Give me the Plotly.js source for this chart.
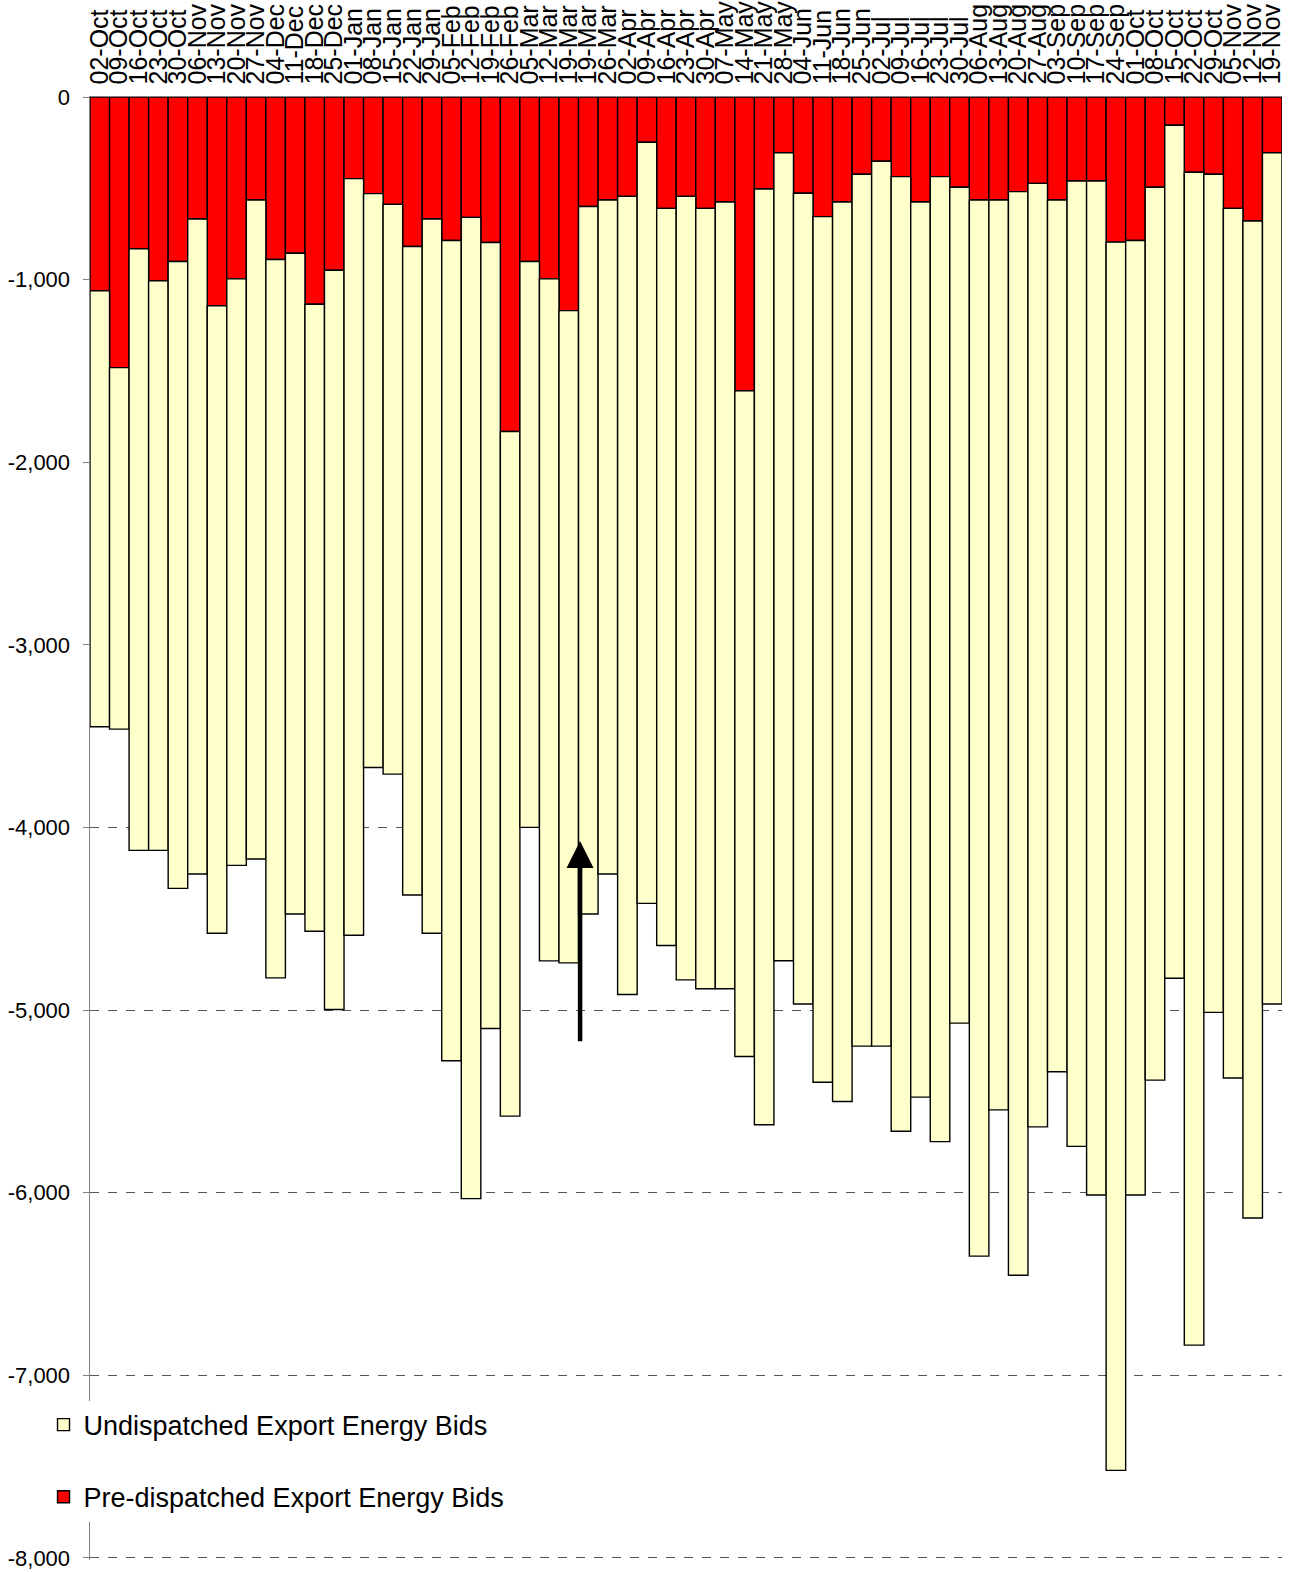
<!DOCTYPE html>
<html>
<head>
<meta charset="utf-8">
<script src="https://cdn.plot.ly/plotly-3.0.1.min.js"></script>
<style>
  html, body { margin: 0; padding: 0; background: #ffffff; }
  #chart { width: 1296px; height: 1572px; }
</style>
</head>
<body>
<div id="chart"></div>
<script>
// Week labels (note: "19-Mar" appears twice in the original chart)
const weeks = [
  "02-Oct","09-Oct","16-Oct","23-Oct","30-Oct","06-Nov","13-Nov","20-Nov","27-Nov",
  "04-Dec","11-Dec","18-Dec","25-Dec","01-Jan","08-Jan","15-Jan","22-Jan","29-Jan",
  "05-Feb","12-Feb","19-Feb","26-Feb","05-Mar","12-Mar","19-Mar","19-Mar","26-Mar",
  "02-Apr","09-Apr","16-Apr","23-Apr","30-Apr","07-May","14-May","21-May","28-May",
  "04-Jun","11-Jun","18-Jun","25-Jun","02-Jul","09-Jul","16-Jul","23-Jul","30-Jul",
  "06-Aug","13-Aug","20-Aug","27-Aug","03-Sep","10-Sep","17-Sep","24-Sep",
  "01-Oct","08-Oct","15-Oct","22-Oct","29-Oct","05-Nov","12-Nov","19-Nov"
];

// Pre-dispatched export energy bids (MW, negative)
const preDispatched = [
  -1062,-1482,-832,-1007,-901,-668,-1144,-996,-564,
  -890,-856,-1135,-949,-447,-529,-588,-819,-668,
  -786,-659,-797,-1832,-901,-996,-1170,-600,-564,
  -544,-248,-610,-544,-610,-575,-1609,-504,-305,
  -527,-655,-575,-423,-352,-436,-575,-436,-494,
  -564,-564,-518,-473,-564,-460,-460,-795,
  -786,-494,-155,-412,-423,-610,-679,-305
];

// Undispatched export energy bids (MW, negative)
const undispatched = [
  -2387,-1980,-3294,-3119,-3433,-3587,-3436,-3212,-3609,
  -3934,-3618,-3434,-4048,-4144,-3143,-3120,-3551,-3912,
  -4492,-5374,-4304,-3749,-3099,-3735,-3572,-3874,-3691,
  -4371,-4168,-4037,-4291,-4274,-4309,-3646,-5124,-4425,
  -4440,-4741,-4926,-4775,-4846,-5228,-4902,-5285,-4578,
  -5784,-4983,-5935,-5167,-4774,-5287,-5553,-6726,
  -5227,-4890,-4671,-6423,-4590,-4762,-5460,-4662
];

const yTickVals = [0,-1000,-2000,-3000,-4000,-5000,-6000,-7000,-8000];
const yTickText = ["0","-1,000","-2,000","-3,000","-4,000","-5,000","-6,000","-7,000","-8,000"];

const xIdx = weeks.map((_, i) => i);

const traces = [
  {
    type: "bar",
    name: "Pre-dispatched Export Energy Bids",
    x: xIdx,
    y: preDispatched,
    legendgroup: "pre",
    legendrank: 2,
    marker: { color: "#FF0000", line: { color: "#000000", width: 1.4 } },
    hoverinfo: "y"
  },
  {
    type: "bar",
    name: "Undispatched Export Energy Bids",
    x: xIdx,
    y: undispatched,
    legendgroup: "und",
    legendrank: 1,
    marker: { color: "#FFFFCC", line: { color: "#000000", width: 1.4 } },
    hoverinfo: "y"
  }
];

const layout = {
  width: 1296,
  height: 1572,
  margin: { l: 90, r: 14, t: 97, b: 12, pad: 0 },
  paper_bgcolor: "#ffffff",
  plot_bgcolor: "#ffffff",
  font: { family: "Liberation Sans, Arial, sans-serif", size: 25, color: "#000000" },
  barmode: "relative",
  bargap: 0,
  showlegend: true,
  legend: {
    x: -0.039, xanchor: "left",
    y: 0.109, yanchor: "top",
    bgcolor: "#ffffff",
    borderwidth: 0,
    traceorder: "grouped",
    tracegroupgap: 34,
    font: { size: 27, color: "#000000" }
  },
  xaxis: {
    side: "top",
    range: [-0.5, weeks.length - 0.5],
    tickmode: "array",
    tickvals: xIdx,
    ticktext: weeks,
    tickangle: -90,
    ticks: "",
    ticklabelstandoff: 6,
    showline: true,
    linecolor: "#808080",
    linewidth: 1.5,
    showgrid: false,
    zeroline: false,
    tickfont: { size: 25, color: "#000000" }
  },
  yaxis: {
    range: [-8012, 0],
    tickmode: "array",
    tickvals: yTickVals,
    ticktext: yTickText,
    ticks: "outside",
    ticklen: 6,
    tickcolor: "#808080",
    ticklabelstandoff: 8,
    showline: true,
    linecolor: "#808080",
    linewidth: 1.5,
    showgrid: true,
    gridcolor: "#555555",
    gridwidth: 1,
    griddash: "dash",
    zeroline: false,
    tickfont: { size: 22, color: "#000000" }
  },
  annotations: [
    {
      x: 24.58, y: -4075,
      ax: 24.58, ay: -5180,
      xref: "x", yref: "y", axref: "x", ayref: "y",
      text: "",
      showarrow: true,
      arrowhead: 2,
      arrowsize: 1.2,
      arrowwidth: 4.5,
      arrowcolor: "#000000"
    }
  ]
};

Plotly.newPlot("chart", traces, layout, { staticPlot: true, displayModeBar: false });
</script>
</body>
</html>
